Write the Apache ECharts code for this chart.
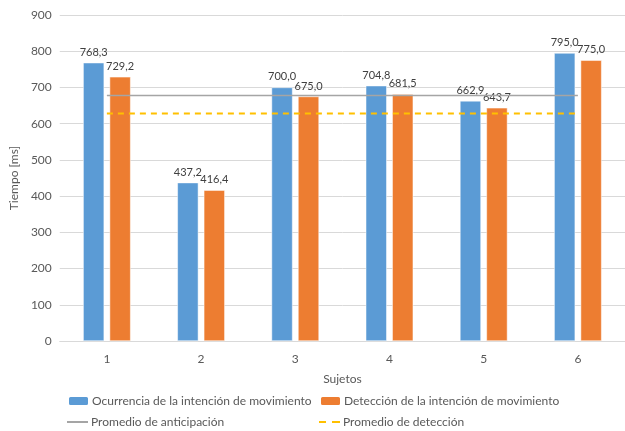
<!DOCTYPE html>
<html>
<head>
<meta charset="utf-8">
<script src="https://cdn.jsdelivr.net/npm/echarts@6/dist/echarts.min.js"></script>
<style>
  html, body { margin: 0; padding: 0; background: #ffffff; }
  #chart { width: 625px; height: 431px; }
</style>
</head>
<body>
<div id="chart"></div>
<script>
// Subject categories and reaction-time values (ms)
const subjects = ['1', '2', '3', '4', '5', '6'];
const ocurrencia = [768.3, 437.2, 700.0, 704.8, 662.9, 795.0];
const deteccion = [729.2, 416.4, 675.0, 681.5, 643.7, 775.0];
const promedioAnticipacion = [678, 678, 678, 678, 678, 678];
const promedioDeteccion = [628, 628, 628, 628, 628, 628];
const yTicks = { min: 0, max: 900, interval: 100 };

const FONT = 'Lato';
const TXT = '#595959';

const fmt = v => v.toFixed(1).replace('.', ',');

const chart = echarts.init(document.getElementById('chart'), null, { renderer: 'canvas' });

const legendBase = {
  orient: 'horizontal',
  itemWidth: 21,
  itemHeight: 10,
  itemGap: 0,
  selectedMode: false,
  textStyle: { color: TXT, fontFamily: FONT, fontSize: 12, padding: [0, 0, 0, -2] },
  padding: 0
};

// flat line icons for the two average series
const solidIcon = 'path://M0,0h21v2h-21z';
const dashIcon = 'path://M0,0h7v2h-7z M13,0h8v2h-8z';

chart.setOption({
  animation: false,
  backgroundColor: '#ffffff',
  textStyle: { fontFamily: FONT },
  grid: { left: 57, top: 15, width: 571, height: 326, containLabel: false },
  legend: [
    Object.assign({}, legendBase, { left: 67, top: 395, data: ['Ocurrencia de la intención de movimiento'] }),
    Object.assign({}, legendBase, { left: 319, top: 395, data: ['Detección de la intención de movimiento'] }),
    Object.assign({}, legendBase, {
      left: 67, top: 416, itemHeight: 2, symbolKeepAspect: false,
      data: [{ name: 'Promedio de anticipación', icon: solidIcon, itemStyle: { color: '#a5a5a5' } }]
    }),
    Object.assign({}, legendBase, {
      left: 319, top: 416, itemHeight: 2, symbolKeepAspect: false,
      data: [{ name: 'Promedio de detección', icon: dashIcon, itemStyle: { color: '#ffc000' } }]
    })
  ],
  xAxis: {
    type: 'category',
    data: subjects,
    boundaryGap: true,
    name: 'Sujetos',
    nameLocation: 'middle',
    nameGap: 32,
    nameTextStyle: { color: TXT, fontFamily: FONT, fontSize: 12 },
    axisLine: { show: true, lineStyle: { color: '#d9d9d9', width: 1 } },
    axisTick: { show: false },
    axisLabel: { color: TXT, fontFamily: FONT, fontSize: 12, margin: 12 }
  },
  yAxis: {
    type: 'value',
    min: yTicks.min,
    max: yTicks.max,
    interval: yTicks.interval,
    name: 'Tiempo [ms]',
    nameLocation: 'middle',
    nameGap: 38,
    nameRotate: 90,
    nameTextStyle: { color: TXT, fontFamily: FONT, fontSize: 12 },
    axisLine: { show: false },
    axisTick: { show: false },
    axisLabel: { color: TXT, fontFamily: FONT, fontSize: 12, margin: 8 },
    splitLine: { lineStyle: { color: '#d9d9d9', width: 1 } }
  },
  series: [
    {
      name: 'Ocurrencia de la intención de movimiento',
      type: 'bar',
      data: ocurrencia,
      barWidth: 21,
      barGap: '26%',
      itemStyle: { color: '#5b9bd5', borderColor: '#ffffff', borderWidth: 0.5 },
      label: {
        show: true, position: 'top', distance: 5,
        color: '#404040', fontFamily: FONT, fontSize: 11,
        formatter: p => fmt(p.value)
      },
      z: 2
    },
    {
      name: 'Detección de la intención de movimiento',
      type: 'bar',
      data: deteccion,
      barWidth: 21,
      itemStyle: { color: '#ed7d31', borderColor: '#ffffff', borderWidth: 0.5 },
      label: {
        show: true, position: 'top', distance: 5,
        color: '#404040', fontFamily: FONT, fontSize: 11,
        formatter: p => fmt(p.value)
      },
      z: 2
    },
    {
      name: 'Promedio de anticipación',
      type: 'line',
      data: promedioAnticipacion,
      symbol: 'none',
      itemStyle: { color: '#a5a5a5' },
      lineStyle: { color: '#a5a5a5', width: 1.5 },
      z: 3
    },
    {
      name: 'Promedio de detección',
      type: 'line',
      data: promedioDeteccion,
      symbol: 'none',
      itemStyle: { color: '#ffc000' },
      lineStyle: { color: '#ffc000', width: 2, type: [6, 5] },
      z: 3
    }
  ]
});
</script>
</body>
</html>
